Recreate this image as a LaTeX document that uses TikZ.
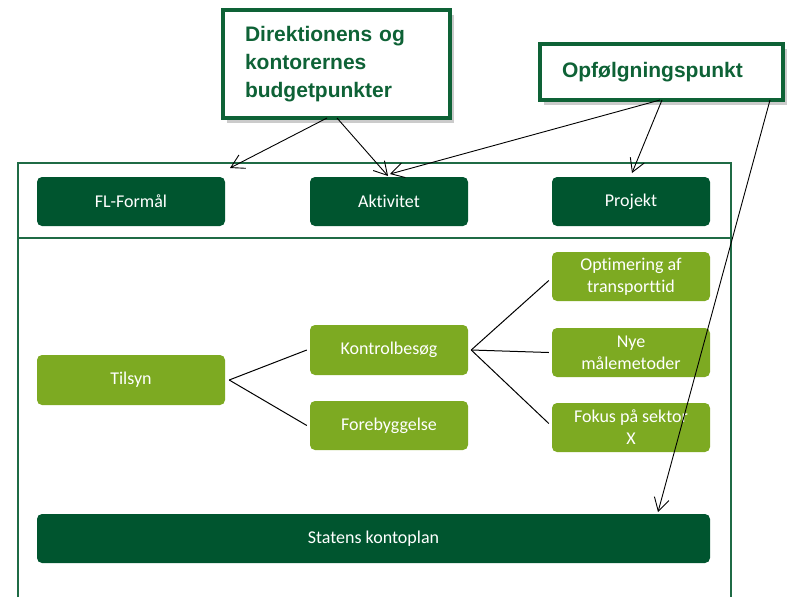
\documentclass[tikz,border=0pt]{standalone}
\usepackage{fontspec}
\setmainfont{Carlito}[Ligatures=NoCommon]
\newfontfamily\calloutfont{Liberation Sans}
\usetikzlibrary{arrows.meta,shadows}

\definecolor{darkgreen}{HTML}{00552F}
\definecolor{leafgreen}{HTML}{7DAA22}
\definecolor{framegreen}{HTML}{1F6B45}
\definecolor{callgreen}{HTML}{0E6236}

\tikzset{
  darkbox/.style={draw=none, fill=darkgreen, rounded corners=5pt, text=white,
    font=\fontsize{18}{22}\selectfont, align=center, inner sep=0pt},
  leafbox/.style={draw=none, fill=leafgreen, rounded corners=5pt, text=white,
    font=\fontsize{18}{22}\selectfont, align=center, inner sep=0pt},
  callout/.style={draw=callgreen, line width=4pt, fill=white, text=callgreen,
    font=\calloutfont\bfseries\fontsize{21}{28}\selectfont, align=left,
    inner sep=0pt, drop shadow={shadow xshift=4pt, shadow yshift=-5pt,
    fill=black!45, opacity=0.45}},
  pointer/.style={draw=black, line width=0.9pt, -{Straight Barb[length=13pt,width=15pt]}},
  branch/.style={draw=black, line width=1pt},
}

\begin{document}
\begin{tikzpicture}[x=1pt,y=-1pt]
\useasboundingbox (0,0) rectangle (787,597);

% outer frame and divider
\draw[framegreen, line width=1.4pt] (18,597) -- (18,163) -- (731,163) -- (731,597);
\draw[framegreen, line width=1.4pt] (18,238) -- (731,238);

% top row
\node[darkbox, minimum width=188pt, minimum height=49pt] (fl) at (131,201.5) {FL-Formål};
\node[darkbox, minimum width=158pt, minimum height=49pt] (akt) at (389,201.5) {Aktivitet};
\node[darkbox, minimum width=158pt, minimum height=49pt] (proj) at (631,201.5) {Projekt};

% tree
\node[leafbox, minimum width=188pt, minimum height=50pt] (tilsyn) at (131,380) {Tilsyn};
\node[leafbox, minimum width=158pt, minimum height=50pt] (kontrol) at (389,350) {Kontrolbesøg};
\node[leafbox, minimum width=158pt, minimum height=49pt] (foreb) at (389,425.5) {Forebyggelse};
\node[leafbox, minimum width=158pt, minimum height=49pt] (opt) at (631,276.5) {Optimering af\\transporttid};
\node[leafbox, minimum width=158pt, minimum height=49pt] (nye) at (631,352.5) {Nye\\målemetoder};
\node[leafbox, minimum width=158pt, minimum height=49pt] (fokus) at (631,427.5) {Fokus på sektor\\X};

% bottom bar
\node[darkbox, minimum width=673pt, minimum height=49pt] (konto) at (373.5,538.5) {Statens kontoplan};

% tree connectors
\draw[branch] (tilsyn.east) ++(4,0) coordinate (tj) -- ([xshift=-3pt]kontrol.west);
\draw[branch] (tj) -- ([xshift=-3pt]foreb.west);
\draw[branch] (kontrol.east) ++(3,0) coordinate (kj) -- ([xshift=-3pt,yshift=-4pt]opt.west);
\draw[branch] (kj) -- ([xshift=-3pt]nye.west);
\draw[branch] (kj) -- ([xshift=-3pt,yshift=4pt]fokus.west);

% callouts
\node[callout, minimum width=227pt, minimum height=108pt, text width=183pt] (dir) at (336.5,64)
  {Direktionens og\\kontorernes\\budgetpunkter};
\node[callout, minimum width=243pt, minimum height=56pt, text width=199pt] (opf) at (661.5,72)
  {Opfølgningspunkt};

% callout pointers
\coordinate (flTip) at (230,168);
\coordinate (aktTipA) at (388,176);
\coordinate (aktTipB) at (390,174);
\coordinate (projTip) at (632,173);
\coordinate (kontoTip) at (658,512);
\coordinate (dirA) at (327,118);
\coordinate (dirB) at (337,118);
\coordinate (opfA) at (660,100);
\coordinate (opfB) at (662,100);
\coordinate (opfC) at (770,100);

\draw[pointer] (dirA) -- (flTip);
\draw[pointer] (dirB) -- (aktTipA);
\draw[pointer] (opfA) -- (aktTipB);
\draw[pointer] (opfB) -- (projTip);
\draw[pointer] (opfC) -- (kontoTip);
\end{tikzpicture}
\end{document}
